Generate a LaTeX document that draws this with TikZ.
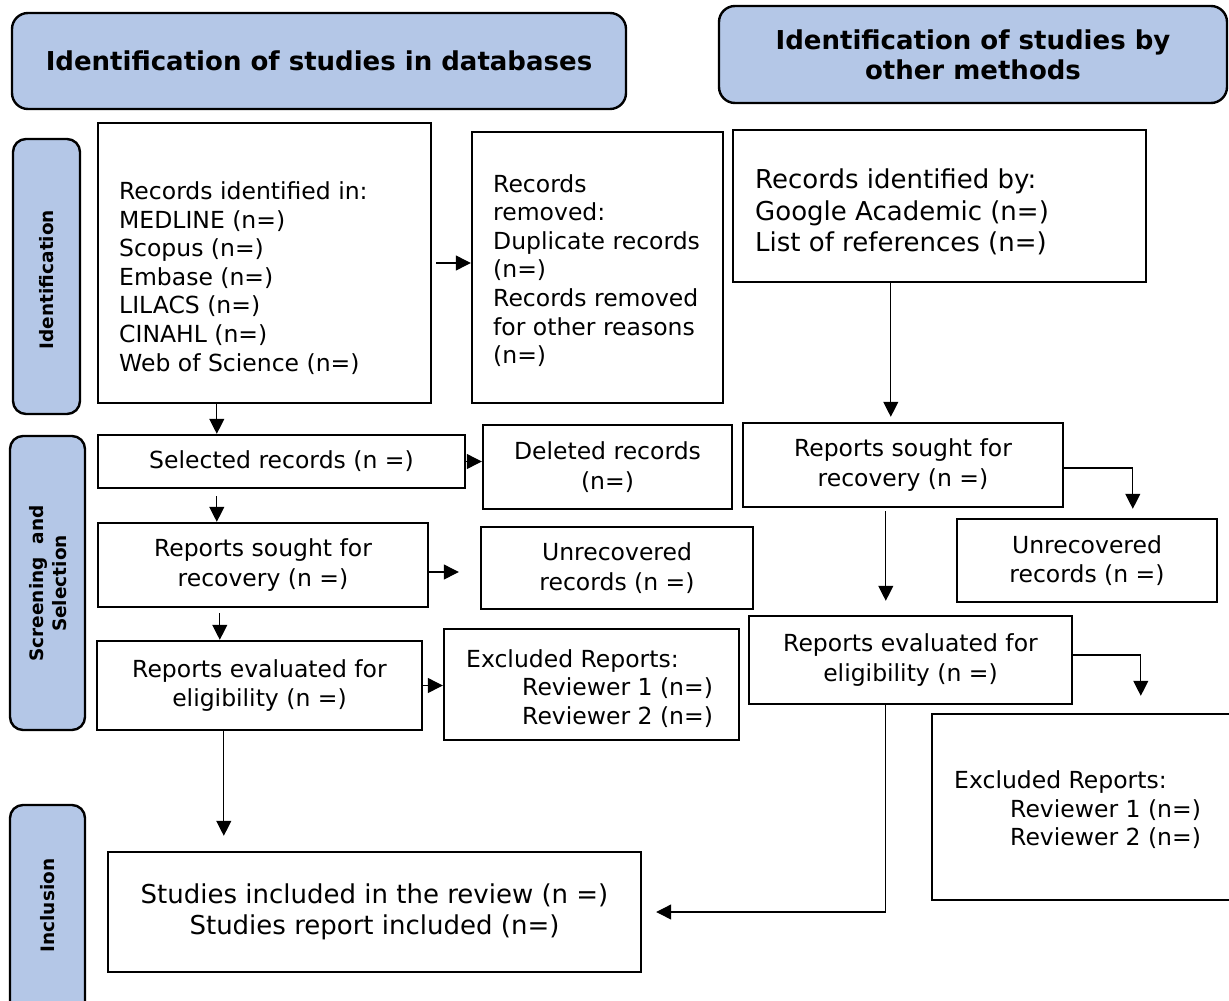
\documentclass[tikz,border=0pt]{standalone}
\usepackage{fontspec}
\setmainfont{DejaVu Sans}
\usetikzlibrary{arrows.meta,fit}
\definecolor{hdrblue}{RGB}{180,199,231}
\tikzset{
 box/.style={draw=black, line width=2.4pt, inner sep=0pt, font=\fontsize{23.5}{29.5}\selectfont, align=center},
 hdr/.style={draw=black, line width=2.4pt, fill=hdrblue, rounded corners=16pt, inner sep=0pt, font=\bfseries\fontsize{26}{30}\selectfont, align=center},
 side/.style={draw=black, line width=2.4pt, fill=hdrblue, rounded corners=13pt, inner sep=0pt},
 sidetxt/.style={rotate=90, font=\bfseries\fontsize{18.5}{23}\selectfont, align=center, inner sep=0pt},
 txt/.style={font=\fontsize{23.5}{28.6}\selectfont, align=left, anchor=west, inner sep=0pt},
 arr/.style={line width=1.2pt, -{Triangle[length=15pt,width=15pt]}},
}
\begin{document}
\begin{tikzpicture}[x=1pt,y=-1pt]
\useasboundingbox (0,0) rectangle (1229,1001);
\clip (0,0) rectangle (1229,1001);
% headers
\node[hdr, minimum width=614pt, minimum height=96pt] (h1) at (319,61) {Identification of studies in databases};
\node[hdr, minimum width=508pt, minimum height=97pt] (h2) at (973,54.5) {Identification of studies by\\other methods};
% side labels
\node[side, fit={(13,139)(80,414)}] (si) {};
\node[sidetxt] (sit) at (46.5,279.5) {Identification};
\node[side, fit={(10,436)(85,730)}] (ss) {};
\node[sidetxt] (sst) at (48,583.5) {Screening\ \ and\\Selection};
\node[side, fit={(10,805)(85,1020)}] (sn) {};
\node[sidetxt] (snt) at (47.5,905.5) {Inclusion};
% boxes
\node[box, fit={(98,123)(431,403)}] (A) {};
\node[txt] (At) at (119,278) {Records identified in:\\MEDLINE (n=)\\Scopus (n=)\\Embase (n=)\\LILACS (n=)\\CINAHL (n=)\\Web of Science (n=)};
\node[box, fit={(472,132)(723,403)}] (B) {};
\node[txt] (Bt) at (493,270.5) {Records\\removed:\\Duplicate records\\(n=)\\Records removed\\for other reasons\\(n=)};
\node[box, fit={(733,130)(1146,282)}] (C) {};
\node[txt, font=\fontsize{26}{31.5}\selectfont] (Ct) at (755,212) {Records identified by:\\Google Academic (n=)\\List of references (n=)};
\node[box, minimum width=367pt, minimum height=53pt] (D) at (281.5,461.5) {Selected records (n =)};
\node[box, minimum width=249pt, minimum height=84pt] (E) at (607.5,467) {Deleted records\\(n=)};
\node[box, minimum width=330pt, minimum height=84pt] (F) at (263,565) {Reports sought for\\recovery (n =)};
\node[box, minimum width=272pt, minimum height=82pt] (G) at (617,568) {Unrecovered\\records (n =)};
\node[box, minimum width=325pt, minimum height=89pt] (H) at (259.5,685.5) {Reports evaluated for\\eligibility (n =)};
\node[box, fit={(444,629)(739,740)}] (I) {};
\node[txt] (It) at (466,688.5) {Excluded Reports:\\\hspace*{56pt}Reviewer 1 (n=)\\\hspace*{56pt}Reviewer 2 (n=)};
\node[box, minimum width=320pt, minimum height=84pt] (J) at (903,465) {Reports sought for\\recovery (n =)};
\node[box, minimum width=260pt, minimum height=83pt] (K) at (1087,560.5) {Unrecovered\\records (n =)};
\node[box, minimum width=323pt, minimum height=88pt] (L) at (910.5,660) {Reports evaluated for\\eligibility (n =)};
\node[box, fit={(932,714)(1242,900)}] (M) {};
\node[txt] (Mt) at (954,810) {Excluded Reports:\\\hspace*{56pt}Reviewer 1 (n=)\\\hspace*{56pt}Reviewer 2 (n=)};
\node[box, minimum width=533pt, minimum height=120pt, font=\fontsize{26}{31}\selectfont] (S) at (374.5,912) {Studies included in the review (n =)\\Studies report included (n=)};
% connectors
\draw[arr, shorten <=4pt] (A.east) -- (A.east -| B.west);
\draw[arr] ([xshift=120pt]A.south west) -- ([xshift=120pt]D.north west);
\draw[arr] (D.east) -- (D.east -| E.west);
\draw[arr, shorten <=7pt] ([xshift=120pt]D.south west) -- ([xshift=120pt]F.north west);
\draw[arr, shorten >=21pt] ([yshift=-7pt]F.east) -- ([yshift=-7pt]F.east -| G.west);
\draw[arr, shorten <=5pt] ([xshift=123pt]F.south west) -- ([xshift=123pt]F.south west |- H.north);
\draw[arr] (H.east) -- (H.east -| I.west);
\draw[arr, shorten >=15pt] ([xshift=128pt]H.south west) -- ([xshift=128pt]H.south west |- S.north);
\draw[arr, shorten >=5pt] ([xshift=159pt]C.south west) -- ([xshift=159pt]C.south west |- J.north);
\draw[arr, shorten >=9pt] ([yshift=-3pt]J.east) -| ([xshift=177pt]K.north west);
\draw[arr, shorten <=3pt, shorten >=14pt] ([xshift=144pt]J.south west) -- ([xshift=144pt]J.south west |- L.north);
\draw[arr, shorten >=17pt] ([yshift=5pt]L.east) -| ([xshift=210pt]M.north west);
\draw[arr, shorten >=14pt] ([xshift=138pt]L.south west) |- (S.east);
\end{tikzpicture}
\end{document}
